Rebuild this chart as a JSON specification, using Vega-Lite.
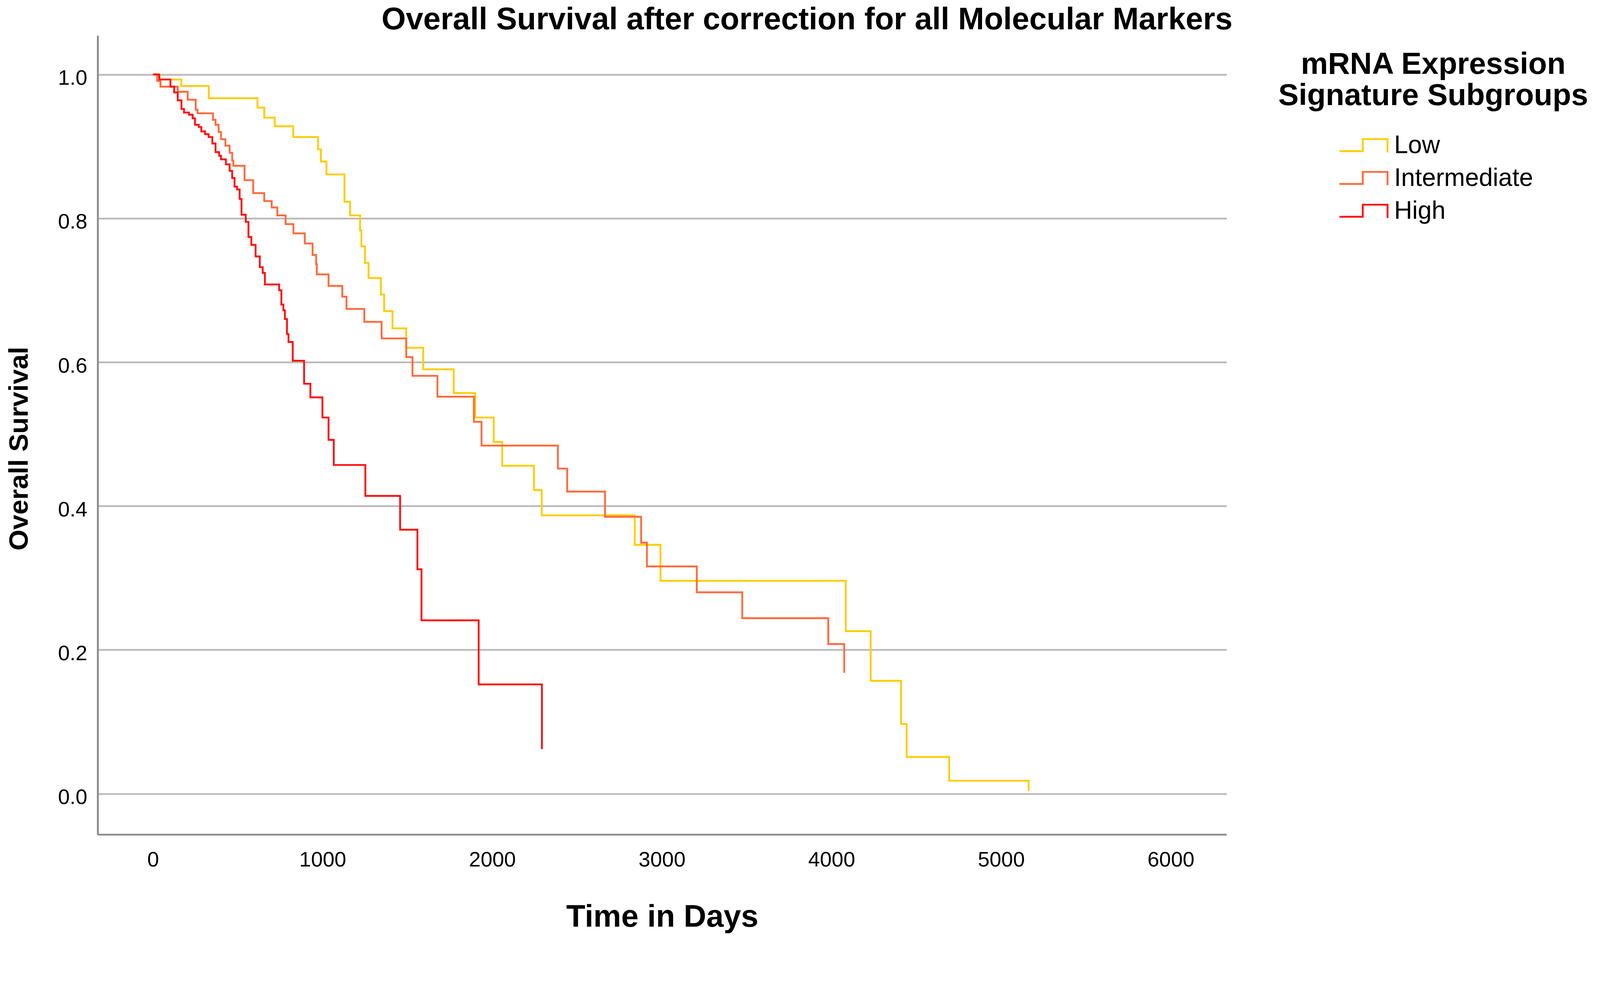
{
  "$schema": "https://vega.github.io/schema/vega-lite/v6.json",
  "autosize": {"type": "none"},
  "padding": {"left": 250, "top": 91, "right": 956, "bottom": 264},
  "width": 2890,
  "height": 2045,
  "background": "white",
  "config": {
    "font": "Liberation Sans, Arial, sans-serif",
    "view": {"stroke": null}
  },
  "title": {
    "text": "Overall Survival after correction for all Molecular Markers",
    "fontSize": 80,
    "fontWeight": "bold",
    "color": "black",
    "anchor": "middle",
    "frame": "group",
    "dx": 371,
    "offset": -1
  },
  "data": {
    "values": [
      {"group": "Low", "day": 0, "s": 1.0},
      {"group": "Low", "day": 40, "s": 0.993},
      {"group": "Low", "day": 167, "s": 0.984},
      {"group": "Low", "day": 329, "s": 0.967},
      {"group": "Low", "day": 616, "s": 0.954},
      {"group": "Low", "day": 656, "s": 0.940},
      {"group": "Low", "day": 718, "s": 0.928},
      {"group": "Low", "day": 827, "s": 0.913},
      {"group": "Low", "day": 973, "s": 0.896},
      {"group": "Low", "day": 990, "s": 0.879},
      {"group": "Low", "day": 1023, "s": 0.861},
      {"group": "Low", "day": 1129, "s": 0.823},
      {"group": "Low", "day": 1162, "s": 0.804},
      {"group": "Low", "day": 1221, "s": 0.783},
      {"group": "Low", "day": 1229, "s": 0.761},
      {"group": "Low", "day": 1250, "s": 0.738},
      {"group": "Low", "day": 1271, "s": 0.717},
      {"group": "Low", "day": 1344, "s": 0.694},
      {"group": "Low", "day": 1363, "s": 0.671},
      {"group": "Low", "day": 1412, "s": 0.647},
      {"group": "Low", "day": 1493, "s": 0.620},
      {"group": "Low", "day": 1593, "s": 0.590},
      {"group": "Low", "day": 1773, "s": 0.557},
      {"group": "Low", "day": 1900, "s": 0.523},
      {"group": "Low", "day": 2009, "s": 0.489},
      {"group": "Low", "day": 2059, "s": 0.456},
      {"group": "Low", "day": 2246, "s": 0.422},
      {"group": "Low", "day": 2292, "s": 0.387},
      {"group": "Low", "day": 2840, "s": 0.346},
      {"group": "Low", "day": 2992, "s": 0.296},
      {"group": "Low", "day": 4084, "s": 0.226},
      {"group": "Low", "day": 4231, "s": 0.157},
      {"group": "Low", "day": 4410, "s": 0.097},
      {"group": "Low", "day": 4443, "s": 0.051},
      {"group": "Low", "day": 4694, "s": 0.018},
      {"group": "Low", "day": 5162, "s": 0.004},
      {"group": "Intermediate", "day": 0, "s": 1.0},
      {"group": "Intermediate", "day": 25, "s": 0.991},
      {"group": "Intermediate", "day": 44, "s": 0.983},
      {"group": "Intermediate", "day": 146, "s": 0.976},
      {"group": "Intermediate", "day": 205, "s": 0.965},
      {"group": "Intermediate", "day": 252, "s": 0.951},
      {"group": "Intermediate", "day": 263, "s": 0.946},
      {"group": "Intermediate", "day": 354, "s": 0.937},
      {"group": "Intermediate", "day": 369, "s": 0.930},
      {"group": "Intermediate", "day": 387, "s": 0.920},
      {"group": "Intermediate", "day": 401, "s": 0.910},
      {"group": "Intermediate", "day": 427, "s": 0.901},
      {"group": "Intermediate", "day": 452, "s": 0.891},
      {"group": "Intermediate", "day": 467, "s": 0.880},
      {"group": "Intermediate", "day": 474, "s": 0.873},
      {"group": "Intermediate", "day": 540, "s": 0.853},
      {"group": "Intermediate", "day": 591, "s": 0.835},
      {"group": "Intermediate", "day": 656, "s": 0.824},
      {"group": "Intermediate", "day": 700, "s": 0.815},
      {"group": "Intermediate", "day": 733, "s": 0.804},
      {"group": "Intermediate", "day": 782, "s": 0.792},
      {"group": "Intermediate", "day": 828, "s": 0.779},
      {"group": "Intermediate", "day": 895, "s": 0.765},
      {"group": "Intermediate", "day": 941, "s": 0.749},
      {"group": "Intermediate", "day": 962, "s": 0.736},
      {"group": "Intermediate", "day": 966, "s": 0.722},
      {"group": "Intermediate", "day": 1035, "s": 0.706},
      {"group": "Intermediate", "day": 1116, "s": 0.691},
      {"group": "Intermediate", "day": 1141, "s": 0.674},
      {"group": "Intermediate", "day": 1246, "s": 0.656},
      {"group": "Intermediate", "day": 1348, "s": 0.633},
      {"group": "Intermediate", "day": 1493, "s": 0.607},
      {"group": "Intermediate", "day": 1530, "s": 0.581},
      {"group": "Intermediate", "day": 1677, "s": 0.552},
      {"group": "Intermediate", "day": 1892, "s": 0.517},
      {"group": "Intermediate", "day": 1937, "s": 0.484},
      {"group": "Intermediate", "day": 2387, "s": 0.452},
      {"group": "Intermediate", "day": 2442, "s": 0.420},
      {"group": "Intermediate", "day": 2665, "s": 0.385},
      {"group": "Intermediate", "day": 2878, "s": 0.349},
      {"group": "Intermediate", "day": 2912, "s": 0.316},
      {"group": "Intermediate", "day": 3206, "s": 0.280},
      {"group": "Intermediate", "day": 3474, "s": 0.244},
      {"group": "Intermediate", "day": 3981, "s": 0.208},
      {"group": "Intermediate", "day": 4075, "s": 0.168},
      {"group": "High", "day": 0, "s": 1.0},
      {"group": "High", "day": 37, "s": 0.993},
      {"group": "High", "day": 103, "s": 0.983},
      {"group": "High", "day": 125, "s": 0.975},
      {"group": "High", "day": 146, "s": 0.964},
      {"group": "High", "day": 168, "s": 0.952},
      {"group": "High", "day": 183, "s": 0.947},
      {"group": "High", "day": 212, "s": 0.944},
      {"group": "High", "day": 234, "s": 0.939},
      {"group": "High", "day": 248, "s": 0.930},
      {"group": "High", "day": 270, "s": 0.927},
      {"group": "High", "day": 285, "s": 0.921},
      {"group": "High", "day": 307, "s": 0.917},
      {"group": "High", "day": 328, "s": 0.913},
      {"group": "High", "day": 350, "s": 0.904},
      {"group": "High", "day": 369, "s": 0.892},
      {"group": "High", "day": 390, "s": 0.887},
      {"group": "High", "day": 401, "s": 0.882},
      {"group": "High", "day": 430, "s": 0.875},
      {"group": "High", "day": 452, "s": 0.866},
      {"group": "High", "day": 467, "s": 0.856},
      {"group": "High", "day": 481, "s": 0.844},
      {"group": "High", "day": 496, "s": 0.840},
      {"group": "High", "day": 511, "s": 0.827},
      {"group": "High", "day": 522, "s": 0.805},
      {"group": "High", "day": 547, "s": 0.795},
      {"group": "High", "day": 563, "s": 0.774},
      {"group": "High", "day": 580, "s": 0.763},
      {"group": "High", "day": 605, "s": 0.747},
      {"group": "High", "day": 630, "s": 0.732},
      {"group": "High", "day": 647, "s": 0.724},
      {"group": "High", "day": 660, "s": 0.708},
      {"group": "High", "day": 744, "s": 0.700},
      {"group": "High", "day": 757, "s": 0.680},
      {"group": "High", "day": 769, "s": 0.672},
      {"group": "High", "day": 778, "s": 0.660},
      {"group": "High", "day": 790, "s": 0.639},
      {"group": "High", "day": 799, "s": 0.628},
      {"group": "High", "day": 824, "s": 0.602},
      {"group": "High", "day": 891, "s": 0.570},
      {"group": "High", "day": 928, "s": 0.551},
      {"group": "High", "day": 999, "s": 0.523},
      {"group": "High", "day": 1035, "s": 0.492},
      {"group": "High", "day": 1066, "s": 0.457},
      {"group": "High", "day": 1252, "s": 0.414},
      {"group": "High", "day": 1457, "s": 0.367},
      {"group": "High", "day": 1559, "s": 0.312},
      {"group": "High", "day": 1583, "s": 0.241},
      {"group": "High", "day": 1920, "s": 0.152},
      {"group": "High", "day": 2293, "s": 0.062}
    ]
  },
  "mark": {"type": "line", "interpolate": "step-after", "strokeWidth": 4.7},
  "encoding": {
    "x": {
      "field": "day",
      "type": "quantitative",
      "scale": {"domain": [-326, 6329], "nice": false, "zero": false},
      "axis": {
        "title": "Time in Days",
        "titleFontSize": 80,
        "titleFontWeight": "bold",
        "titleColor": "black",
        "titleAnchor": "middle",
        "titleBaseline": "alphabetic",
        "titleY": 235,
        "values": [0, 1000, 2000, 3000, 4000, 5000, 6000],
        "format": "d",
        "labelFontSize": 54,
        "labelColor": "black",
        "labelPadding": 38,
        "labelFlush": false,
        "labelOverlap": false,
        "ticks": false,
        "grid": false,
        "domainColor": "#8a8a8a",
        "domainWidth": 4.7
      }
    },
    "y": {
      "field": "s",
      "type": "quantitative",
      "scale": {"domain": [-0.0567, 1.0541], "nice": false, "zero": false},
      "axis": {
        "title": "Overall Survival",
        "titleFontSize": 69,
        "titleFontWeight": "bold",
        "titleColor": "black",
        "titleAngle": -90,
        "titleAlign": "center",
        "titleBaseline": "alphabetic",
        "titleX": -180,
        "titleY": 1057,
        "values": [0, 0.2, 0.4, 0.6, 0.8, 1.0],
        "format": ".1f",
        "labelFontSize": 54,
        "labelColor": "black",
        "labelPadding": 27,
        "labelOffset": 10,
        "labelOverlap": false,
        "ticks": false,
        "grid": true,
        "gridColor": "#b9b9b9",
        "gridWidth": 4.3,
        "domainColor": "#8a8a8a",
        "domainWidth": 4.7
      }
    },
    "color": {
      "field": "group",
      "type": "nominal",
      "scale": {"domain": ["Low", "Intermediate", "High"], "range": ["#FFCC00", "#FF6A3C", "#FF1010"]},
      "legend": {
        "title": ["mRNA Expression", "Signature Subgroups"],
        "orient": "none",
        "legendX": 3022,
        "legendY": 36,
        "padding": 0,
        "titleFontSize": 78,
        "titleFontWeight": "bold",
        "titleColor": "black",
        "titleAlign": "center",
        "titleAnchor": "middle",
        "titleBaseline": "top",
        "titleLineHeight": 80,
        "titlePadding": 56,
        "titleLimit": 2000,
        "labelFontSize": 64,
        "labelColor": "black",
        "labelLimit": 2000,
        "symbolType": "M-1,0.82L2.51,0.82L2.51,-1L6.24,-1L6.24,1",
        "symbolSize": 1156,
        "symbolStrokeWidth": 4.7,
        "symbolOffset": 0,
        "labelOffset": 91,
        "rowPadding": 20
      }
    }
  }
}
